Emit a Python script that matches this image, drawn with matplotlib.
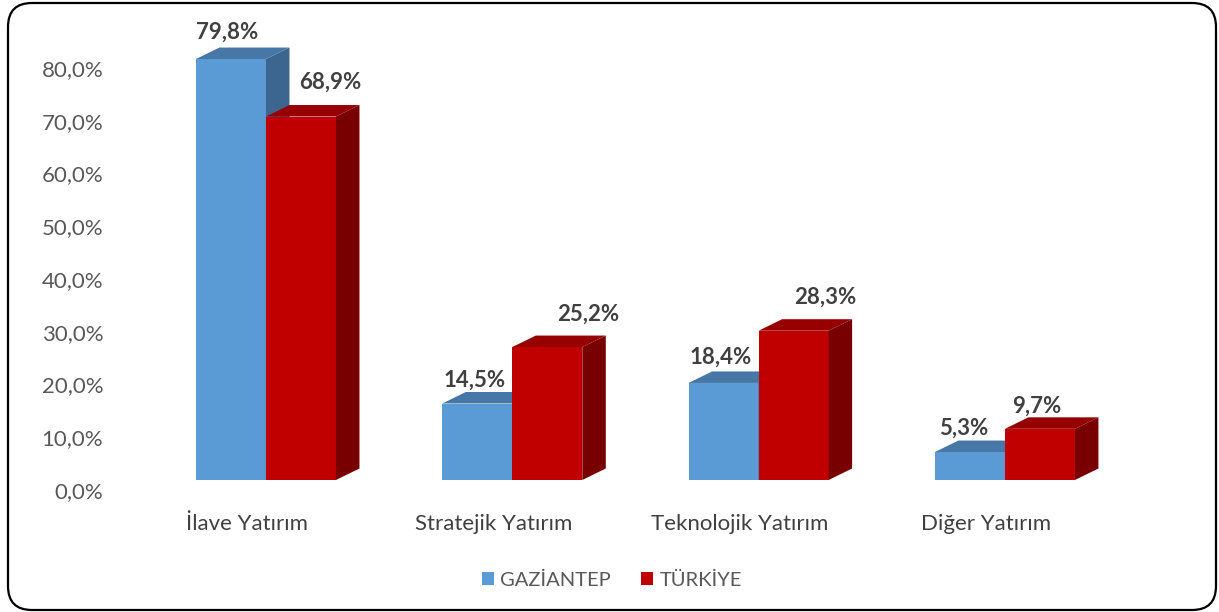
import matplotlib.pyplot as plt
from matplotlib.patches import Rectangle, Polygon, FancyBboxPatch
from matplotlib.transforms import IdentityTransform
from matplotlib.ticker import FuncFormatter

categories = ["İlave Yatırım", "Stratejik Yatırım", "Teknolojik Yatırım", "Diğer Yatırım"]
series_names = ["GAZİANTEP", "TÜRKİYE"]
gaziantep = [79.8, 14.5, 18.4, 5.3]
turkiye = [68.9, 25.2, 28.3, 9.7]
y_ticks = [0, 10, 20, 30, 40, 50, 60, 70, 80]

# face colours: front, top, side
colors = {
    "GAZİANTEP": ("#5B9BD5", "#4677A6", "#3C6690"),
    "TÜRKİYE": ("#C00000", "#960000", "#780000"),
}

W, H, DPI = 1219, 612, 100
fig = plt.figure(figsize=(W / DPI, H / DPI), dpi=DPI)
plt.rcParams["font.family"] = ["Lato", "DejaVu Sans"]

# axes placement in pixels
x_lo, x_hi = -0.55, 3.55
y_lo, y_hi = 0, 85
ax_left, ax_right = 111.5, 1121.4
ax_bottom_px, ax_top_px = 490, 41.6
ax = fig.add_axes([ax_left / W, (H - ax_bottom_px) / H,
                   (ax_right - ax_left) / W, (ax_bottom_px - ax_top_px) / H])
ax.set_xlim(x_lo, x_hi)
ax.set_ylim(y_lo, y_hi)

ux = (x_hi - x_lo) / (ax_right - ax_left)     # data per pixel
uy = (y_hi - y_lo) / (ax_bottom_px - ax_top_px)

bar_w = 70 * ux
shift_x = 19 * ux
base = 10 * uy
dx, dy = 23.5 * ux, 11.5 * uy


def draw_bar(x0, val, cols):
    front, top, side = cols
    y0, y1 = base, base + val
    x1 = x0 + bar_w
    ax.add_patch(Rectangle((x0, y0), bar_w, val, facecolor=front, edgecolor="none", zorder=2))
    ax.add_patch(Polygon([(x0, y1), (x1, y1), (x1 + dx, y1 + dy), (x0 + dx, y1 + dy)],
                         closed=True, facecolor=top, edgecolor="none", zorder=2))
    ax.add_patch(Polygon([(x1, y0), (x1 + dx, y0 + dy), (x1 + dx, y1 + dy), (x1, y1)],
                         closed=True, facecolor=side, edgecolor="none", zorder=2))


# label offsets in pixels (gaziantep, türkiye)
label_dx = [[-4, 29], [-3, 41], [-3, 32], [-6, -3]]
label_dy = [[27, 34], [23, 33], [26, 34], [24, 23]]

for i, (g, t) in enumerate(zip(gaziantep, turkiye)):
    xg = i - bar_w + shift_x
    xt = i + shift_x
    draw_bar(xg, g, colors["GAZİANTEP"])
    draw_bar(xt, t, colors["TÜRKİYE"])
    for x0, v, ox, oy in [(xg, g, label_dx[i][0], label_dy[i][0]),
                          (xt, t, label_dx[i][1], label_dy[i][1])]:
        ax.annotate(f"{v:.1f}%".replace(".", ","), (x0 + bar_w / 2, base + v),
                    xytext=(ox * 0.72, oy * 0.72), textcoords="offset points",
                    ha="center", va="center", fontsize=16, fontweight="bold",
                    color="#404040", zorder=3)

ax.set_yticks(y_ticks)
ax.yaxis.set_major_formatter(FuncFormatter(lambda v, p: f"{v:.1f}%".replace(".", ",")))
ax.set_xticks(range(len(categories)))
ax.set_xticklabels(categories)
ax.tick_params(axis="y", length=0, pad=6, labelsize=16, labelcolor="#595959")
ax.tick_params(axis="x", length=0, pad=17, labelsize=16, labelcolor="#404040")
for s in ax.spines.values():
    s.set_visible(False)

handles = [Rectangle((0, 0), 1, 1, facecolor=colors[n][0]) for n in series_names]
fig.legend(handles, series_names, loc="center", bbox_to_anchor=(612 / W, (H - 580) / H),
           ncol=2, frameon=False, fontsize=14.5, labelcolor="#595959",
           handlelength=0.6, handleheight=0.6, handletextpad=0.3, columnspacing=1.5)

border = FancyBboxPatch((8, 2), 1208, 607, boxstyle="round,pad=0,rounding_size=24",
                        transform=IdentityTransform(), facecolor="none",
                        edgecolor="black", linewidth=1.6)
fig.patches.append(border)

fig.savefig("out.png", dpi=DPI)
